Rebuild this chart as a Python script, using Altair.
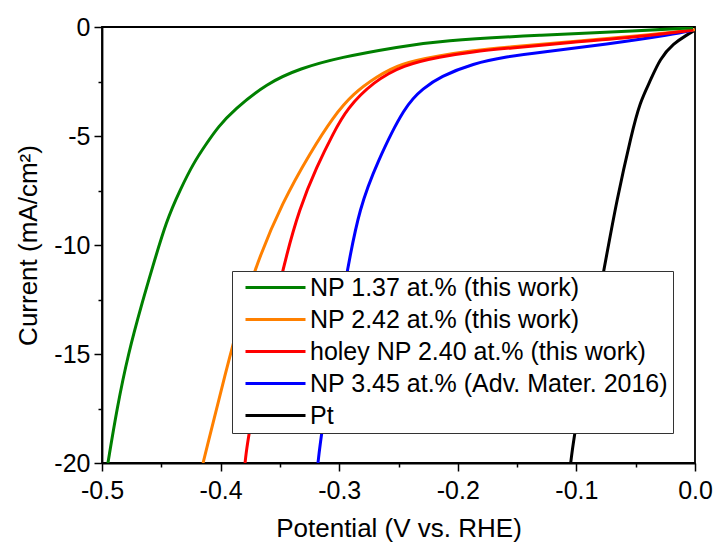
import altair as alt
import pandas as pd

# ---- data (V vs. RHE, mA/cm2) ----
names = ["NP 1.37 at.% (this work)", "NP 2.42 at.% (this work)",
         "holey NP 2.40 at.% (this work)", "NP 3.45 at.% (Adv. Mater. 2016)", "Pt"]
colors = ["#008000", "#FF8000", "#FF0000", "#0000FF", "#000000"]

green_v = [-0.495, -0.4874, -0.478, -0.4654, -0.4581, -0.4455, -0.4342, -0.423, -0.4117, -0.4019, -0.389, -0.361, -0.333, -0.2993, -0.249, -0.215, -0.131, -0.0464, -0.0017]
green_j = [-20.0, -17.5, -15.0, -12.5, -11.15, -8.85, -7.48, -6.25, -5.33, -4.57, -3.81, -2.58, -1.90, -1.39, -0.90, -0.63, -0.37, -0.18, -0.03]

orange_v = [-0.4148, -0.392, -0.3724, -0.347, -0.3246, -0.305, -0.288, -0.2684, -0.249, -0.215, -0.187, -0.1588, -0.1026, -0.0464, 0.0]
orange_j = [-20.0, -15.0, -11.15, -7.94, -5.79, -4.11, -3.04, -2.28, -1.68, -1.31, -1.08, -0.93, -0.66, -0.40, -0.12]

red_v = [-0.3794, -0.376, -0.3485, -0.333, -0.319, -0.305, -0.2937, -0.2712, -0.246, -0.215, -0.187, -0.1588, -0.1026, -0.0464, -0.0014]
red_j = [-20.0, -18.4, -11.15, -8.24, -6.41, -4.88, -3.75, -2.51, -1.74, -1.36, -1.13, -0.98, -0.70, -0.44, -0.14]

blue_v = [-0.3179, -0.3145, -0.2937, -0.2825, -0.2684, -0.2445, -0.229, -0.215, -0.187, -0.1588, -0.1307, -0.0745, -0.018, -0.0014]
blue_j = [-20.0, -18.4, -11.15, -8.24, -6.25, -3.58, -2.81, -2.28, -1.67, -1.36, -1.16, -0.79, -0.33, -0.14]

pt_v = [-0.1048, -0.1012, -0.076, -0.066, -0.0534, -0.0464, -0.038, -0.0295, -0.018, -0.007, 0.0]
pt_j = [-20.0, -18.4, -10.9, -7.94, -4.88, -3.45, -2.51, -1.44, -0.75, -0.37, -0.14]

series = [(green_v, green_j), (orange_v, orange_j), (red_v, red_j), (blue_v, blue_j), (pt_v, pt_j)]

x_ticks = [-0.5, -0.45, -0.4, -0.35, -0.3, -0.25, -0.2, -0.15, -0.1, -0.05, 0.0]
y_ticks = [0, -2.5, -5, -7.5, -10, -12.5, -15, -17.5, -20]

FONT = "Liberation Sans"

frames = {}
for name, (v, j) in zip(names, series):
    frames[name] = pd.DataFrame({"V": v, "J": j, "series": name})

color_scale = alt.Scale(domain=names, range=colors)

x_major = "abs(datum.value*10 - round(datum.value*10)) < 0.001"
y_major = "abs(datum.value/5 - round(datum.value/5)) < 0.001"

x_enc = alt.X("V:Q", scale=alt.Scale(domain=[-0.5, 0.0], nice=False, zero=False),
              axis=alt.Axis(values=x_ticks, title="Potential (V vs. RHE)",
                            labelExpr=f"({x_major}) ? (datum.value < -0.001 ? '-' + format(abs(datum.value), '.1f') : '0.0') : ''",
                            tickSize={"condition": {"test": x_major, "value": 8}, "value": 4},
                            grid=False, labelOverlap=False, labelBound=False, labelFlush=False,
                            labelPadding=7, titlePadding=12))
y_enc = alt.Y("J:Q", scale=alt.Scale(domain=[-20, 0], nice=False, zero=False),
              axis=alt.Axis(values=y_ticks, title="Current (mA/cm²)",
                            labelExpr=f"({y_major}) ? (datum.value < -0.001 ? '-' + format(abs(datum.value), 'd') : '0') : ''",
                            tickSize={"condition": {"test": y_major, "value": 8}, "value": 4},
                            grid=False, labelOverlap=False, labelBound=False, labelFlush=False,
                            labelPadding=4, titlePadding=12))

draw_order = ["Pt", "NP 3.45 at.% (Adv. Mater. 2016)", "NP 2.42 at.% (this work)",
              "holey NP 2.40 at.% (this work)", "NP 1.37 at.% (this work)"]

layers = []
for name in draw_order:
    layers.append(
        alt.Chart(frames[name]).mark_line(strokeWidth=3, interpolate="basis", clip=True).encode(
            x=x_enc, y=y_enc,
            color=alt.Color("series:N", scale=color_scale,
                            legend=alt.Legend(title=None, orient="none", legendX=130, legendY=244,
                                              values=names)),
        )
    )

chart = alt.layer(*layers).properties(
    width=593, height=436,
    padding={"left": 102, "top": 27, "right": 23, "bottom": 80},
    autosize=alt.AutoSizeParams(type="none"),
).configure_view(
    stroke="#000", strokeWidth=1.8
).configure_axis(
    domainColor="#000", domainWidth=1.8, tickColor="#000", tickWidth=1.5,
    labelFont=FONT, labelFontSize=25, labelColor="#000",
    titleFont=FONT, titleFontSize=26, titleFontWeight="normal", titleColor="#000",
).configure_legend(
    symbolType="M-3,0H3", symbolSize=400, symbolStrokeWidth=3,
    labelFont=FONT, labelFontSize=25, labelColor="#000", labelLimit=0,
    strokeColor="#333", fillColor="white", padding=4, cornerRadius=0,
    rowPadding=6, labelOffset=22, symbolOffset=27,
)

chart.save("out.html", embed_options={"renderer": "svg", "actions": False})
